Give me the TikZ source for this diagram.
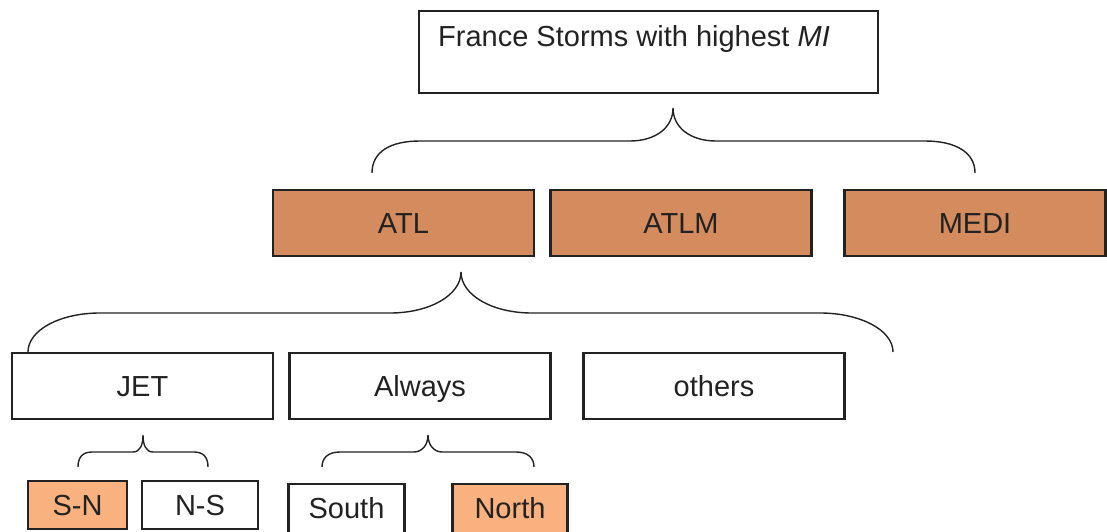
\documentclass[tikz,border=0pt]{standalone}
\usepackage{fontspec}
\setmainfont{Liberation Sans}
\definecolor{regionorange}{HTML}{D48C5E}
\definecolor{paleorange}{HTML}{F9B17F}
\definecolor{boxline}{HTML}{222222}

\begin{document}
\begin{tikzpicture}[x=1pt,y=-1pt,
 box/.style={draw=boxline,line width=2.6pt,fill=white,inner sep=0pt,
  font=\fontsize{29}{34}\selectfont,text=boxline,
  text height=21pt,text depth=0pt},
 region/.style={box,fill=regionorange,minimum width=261pt,minimum height=66pt},
 flowbox/.style={box,minimum width=261pt,minimum height=66pt},
 brace/.style={draw=boxline,line width=1.4pt}]
 \useasboundingbox (0,0) rectangle (1107,532);
 % title box
 \node[box,minimum width=459pt,minimum height=82pt] (title) at (648.5,52) {};
 \node[anchor=base west,inner sep=0pt,font=\fontsize{29}{34}\selectfont,
  text=boxline] (titletext) at (438,47) {France Storms with highest \textit{MI}};
 % regions
 \node[region] (atl) at (403.5,223) {ATL};
 \node[region] (atlm) at (681,223) {ATLM};
 \node[region] (medi) at (975,223) {MEDI};
 % ATL split
 \node[flowbox] (jet) at (142.5,386) {JET};
 \node[flowbox] (always) at (420,386) {Always};
 \node[flowbox] (others) at (714,386) {others};
 % bottom row
 \node[box,fill=paleorange,minimum width=99pt,minimum height=48pt] (sn) at (77.5,505) {S-N};
 \node[box,minimum width=116pt,minimum height=48pt] (ns) at (200,505) {N-S};
 \node[box,minimum width=116pt,minimum height=60pt] (south) at (346.5,514) {\raisebox{6pt}{South}};
 \node[box,fill=paleorange,minimum width=115pt,minimum height=60pt] (north) at (510,514) {\raisebox{6pt}{North}};
 % braces
 \draw[brace] (372,173) .. controls (372,152) and (390,141) .. (420,141)
  -- (630,141) .. controls (655,141) and (673,128) .. (673,108)
  .. controls (673,128) and (691,141) .. (716,141)
  -- (925,141) .. controls (955,141) and (975,152) .. (975,173);
 \draw[brace] (28,352) .. controls (28,330) and (60,313) .. (100,313)
  -- (390,313) .. controls (430,313) and (461,295) .. (461,272)
  .. controls (461,295) and (492,313) .. (532,313)
  -- (820,313) .. controls (860,313) and (893,330) .. (893,352);
 \draw[brace] (78,467) .. controls (78,458) and (82,452) .. (92,452)
  -- (133,452) .. controls (140,452) and (143,445) .. (143,435)
  .. controls (143,445) and (146,452) .. (153,452)
  -- (194,452) .. controls (204,452) and (208,458) .. (208,467);
 \draw[brace] (322,467) .. controls (322,458) and (328,452) .. (340,452)
  -- (414,452) .. controls (422,452) and (428,445) .. (428,435)
  .. controls (428,445) and (434,452) .. (442,452)
  -- (516,452) .. controls (528,452) and (534,458) .. (534,467);
\end{tikzpicture}
\end{document}
